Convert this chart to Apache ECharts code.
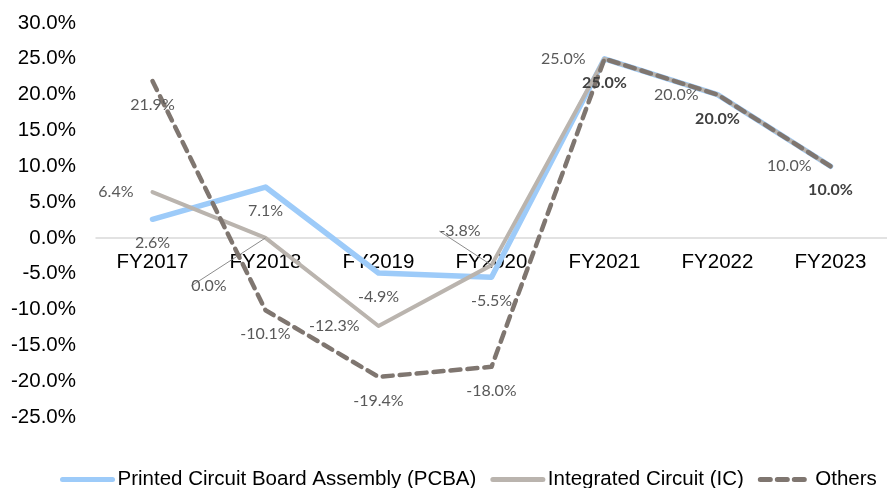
<!DOCTYPE html>
<html>
<head>
<meta charset="utf-8">
<script src="https://cdn.jsdelivr.net/npm/echarts@6/dist/echarts.min.js"></script>
<style>
  html, body { margin: 0; padding: 0; background: #fff; }
  #chart { width: 887px; height: 488px; }
</style>
</head>
<body>
<div id="chart"></div>
<script>
// chart data
const years = ['FY2017', 'FY2018', 'FY2019', 'FY2020', 'FY2021', 'FY2022', 'FY2023']
const pcba = [2.6, 7.1, -4.9, -5.5, 25.0, 20.0, 10.0]
const ic = [6.4, 0.0, -12.3, -3.8, 25.0, 20.0, 10.0]
const others = [21.9, -10.1, -19.4, -18.0, 25.0, 20.0, 10.0]
const seriesNames = ['Printed Circuit Board Assembly (PCBA)', 'Integrated Circuit (IC)', 'Others']
const yMin = -25
const yMax = 30
const yStep = 5

// label tweaks (kept apart from the data)
const icLabelShift = { 1: [-20, 48], 3: [8, -34] }
const boldFrom = 4

const gridTop = 23
const gridBottom = 71
const chartH = 488

const pct = v => v.toFixed(1) + '%'
const labelFont = { fontFamily: 'Lato', fontSize: 16, color: '#595959' }
const axisFont = { color: '#000', fontFamily: 'Liberation Sans', fontSize: 20.5 }

const chart = echarts.init(document.getElementById('chart'))

// put the category axis on the zero line
const plotH = chartH - gridTop - gridBottom
const zeroOffset = -plotH * (0 - yMin) / (yMax - yMin)

const pcbaData = pcba.map((v, i) => ({
  value: v,
  label: { show: i < boldFrom }
}))
const icData = ic.map((v, i) => ({
  value: v,
  labelLine: icLabelShift[i] ? { show: true, lineStyle: { color: '#8c8c8c', width: 1 } } : { show: false }
}))
const othersData = others.map((v, i) => ({
  value: v,
  label: i >= boldFrom ? { fontWeight: 'bold', color: '#404040' } : {}
}))

chart.setOption({
  animation: false,
  grid: { left: 96, right: -12, top: gridTop, bottom: gridBottom },
  xAxis: {
    type: 'category',
    data: years,
    boundaryGap: true,
    offset: zeroOffset,
    z: 1,
    axisTick: { show: false },
    axisLine: { onZero: false, lineStyle: { color: '#d9d9d9', width: 1.5 } },
    axisLabel: Object.assign({ margin: 14 }, axisFont)
  },
  yAxis: {
    type: 'value',
    min: yMin,
    max: yMax,
    interval: yStep,
    splitLine: { show: false },
    axisLine: { show: false },
    axisTick: { show: false },
    axisLabel: Object.assign({ margin: 20, formatter: v => pct(v) }, axisFont)
  },
  legend: {
    left: 55,
    bottom: -7,
    itemWidth: 50,
    itemHeight: 14,
    itemGap: 14,
    itemStyle: { opacity: 0 },
    lineStyle: { width: 5, cap: 'round' },
    textStyle: axisFont,
    data: seriesNames
  },
  series: [
    {
      name: seriesNames[0],
      type: 'line',
      data: pcbaData,
      symbol: 'circle',
      symbolSize: 0,
      lineStyle: { color: '#9dcbf9', width: 5.5, cap: 'round', join: 'round' },
      itemStyle: { color: '#9dcbf9' },
      label: Object.assign({ show: true, position: 'bottom', distance: 16, formatter: p => pct(p.value) }, labelFont),
      z: 2
    },
    {
      name: seriesNames[1],
      type: 'line',
      data: icData,
      symbol: 'circle',
      symbolSize: 0,
      lineStyle: { color: '#bab4ae', width: 4, cap: 'round', join: 'round' },
      itemStyle: { color: '#bab4ae' },
      label: Object.assign({ show: true, position: 'left', distance: 19, formatter: p => pct(p.value) }, labelFont),
      labelLayout: function (params) {
        const s = icLabelShift[params.dataIndex]
        return s ? { dx: s[0], dy: s[1] } : {}
      },
      z: 3
    },
    {
      name: seriesNames[2],
      type: 'line',
      data: othersData,
      symbol: 'circle',
      symbolSize: 0,
      lineStyle: { color: '#7f7670', width: 4.5, type: [10, 7], cap: 'round', join: 'round' },
      itemStyle: { color: '#7f7670' },
      label: Object.assign({ show: true, position: 'bottom', distance: 16, formatter: p => pct(p.value) }, labelFont),
      z: 4
    }
  ]
})
</script>
</body>
</html>
